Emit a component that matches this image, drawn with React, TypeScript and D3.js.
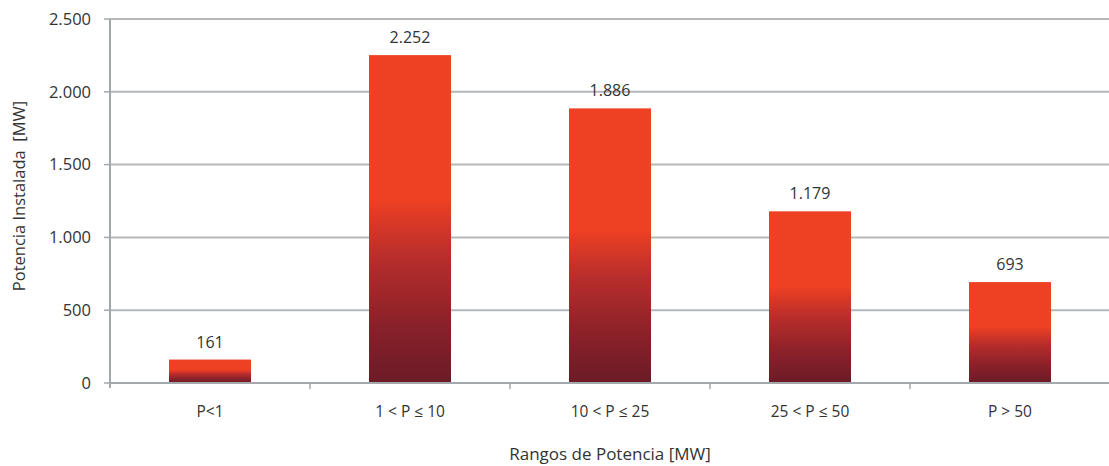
import React from "react";
import * as d3 from "d3";

const categories: string[] = ["P<1", "1 < P ≤ 10", "10 < P ≤ 25", "25 < P ≤ 50", "P > 50"];
const values: number[] = [161, 2252, 1886, 1179, 693];
const yTicks: number[] = [0, 500, 1000, 1500, 2000, 2500];

const W = 1109;
const H = 466;
const left = 110;
const right = 1110;
const top = 19;
const bottom = 383;

const fmt = (v: number) => d3.format(",")(v).replace(/,/g, ".");

export default function App() {
  const x = d3.scaleBand<string>().domain(categories).range([left, right]).paddingInner(0.59).paddingOuter(0.295);
  const y = d3.scaleLinear().domain([0, 2500]).range([bottom, top]);
  const font = "'Open Sans', 'Noto Sans', sans-serif";
  const band = (right - left) / categories.length;

  return (
    <svg width={W} height={H} style={{ position: "absolute", left: 0, top: 0 }} fontFamily={font}>
      <defs>
        <linearGradient id="barFill" x1="0" y1="0" x2="0" y2="1">
          <stop offset="0" stopColor="#ee4023" />
          <stop offset="0.44" stopColor="#ee4023" />
          <stop offset="0.62" stopColor="#b72d2b" />
          <stop offset="0.82" stopColor="#8a2129" />
          <stop offset="1" stopColor="#6b1b27" />
        </linearGradient>
      </defs>
      <rect width={W} height={H} fill="#fff" />
      {yTicks.map((t) => (
        <g key={t}>
          {t > 0 && <line x1={left} x2={W} y1={y(t)} y2={y(t)} stroke="#b4b8bb" strokeWidth={2} />}
          <line x1={104} x2={left} y1={y(t)} y2={y(t)} stroke="#a3a8ac" strokeWidth={1.5} />
          <text x={91} y={y(t)} dy="0.35em" textAnchor="end" fontSize={16.5} fill="#333">
            {fmt(t)}
          </text>
        </g>
      ))}
      {values.map((v, i) => (
        <g key={categories[i]}>
          <rect x={x(categories[i])} y={y(v)} width={x.bandwidth()} height={bottom - y(v)} fill="url(#barFill)" />
          <text x={(x(categories[i]) as number) + x.bandwidth() / 2} y={y(v) - 12} textAnchor="middle" fontSize={16} fill="#333">
            {fmt(v)}
          </text>
          <text x={(x(categories[i]) as number) + x.bandwidth() / 2} y={417} textAnchor="middle" fontSize={15.5} fill="#333">
            {categories[i]}
          </text>
        </g>
      ))}
      {categories.slice(1).map((c, i) => (
        <line key={c} x1={left + band * (i + 1)} x2={left + band * (i + 1)} y1={bottom} y2={bottom + 6} stroke="#a3a8ac" strokeWidth={1.5} />
      ))}
      <line x1={left} x2={W} y1={bottom} y2={bottom} stroke="#a3a8ac" strokeWidth={2} />
      <line x1={left} x2={left} y1={top} y2={bottom + 5} stroke="#a3a8ac" strokeWidth={2} />
      <text x={(left + right) / 2} y={460} textAnchor="middle" fontSize={17} fill="#333">
        Rangos de Potencia [MW]
      </text>
      <text transform={`translate(25, ${(top + bottom) / 2 - 5}) rotate(-90)`} textAnchor="middle" fontSize={16.5} fill="#333" style={{ whiteSpace: "pre" }}>
        {"Potencia Instalada  [MW]"}
      </text>
    </svg>
  );
}
